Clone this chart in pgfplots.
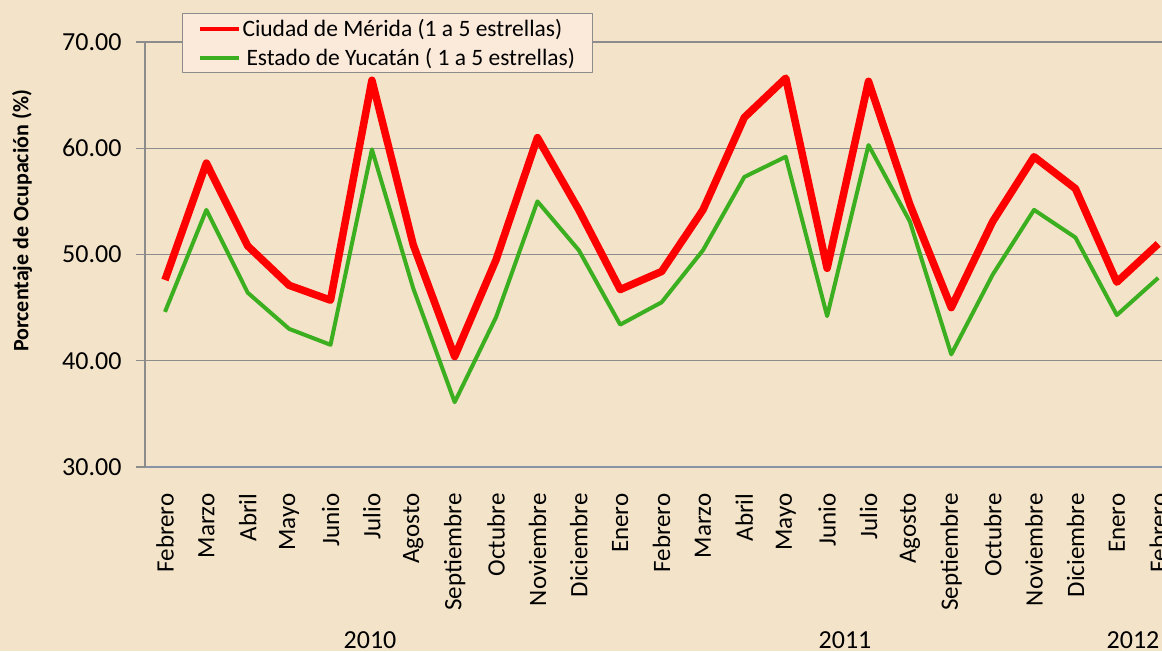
\documentclass[border=0pt]{standalone}
\usepackage{fontspec}
\setmainfont{Carlito}
\usepackage{pgfplots}
\pgfplotsset{compat=1.18}
\definecolor{bgc}{HTML}{F3E3C8}
\definecolor{legbg}{HTML}{FBE9DA}
\definecolor{gridc}{HTML}{8C8C8C}
\definecolor{myred}{HTML}{FF0000}
\definecolor{mygreen}{HTML}{3BAF1F}
\definecolor{botax}{HTML}{8894A6}
\begin{document}
\begin{tikzpicture}[x=1pt,y=1pt]
\useasboundingbox (0,0) rectangle (1162,651);
\clip (0,0) rectangle (1162,651);
\fill[bgc] (0,0) rectangle (1162,651);
\begin{axis}[
  at={(145pt,184pt)}, anchor=south west,
  scale only axis, width=1055pt, height=425pt,
  xmin=-0.483, xmax=25.01, ymin=30, ymax=70,
  axis lines*=left,
  x axis line style={botax, line width=1.5pt},
  y axis line style={gridc, line width=1.5pt},
  ytick={30,40,50,60,70},
  xtick={0,...,24},
  xticklabels={Febrero,Marzo,Abril,Mayo,Junio,Julio,Agosto,Septiembre,Octubre,Noviembre,Diciembre,Enero,Febrero,Marzo,Abril,Mayo,Junio,Julio,Agosto,Septiembre,Octubre,Noviembre,Diciembre,Enero,Febrero},
  x tick label style={rotate=90, anchor=east, font=\fontsize{25}{30}\selectfont},
  xticklabel shift=14pt,
  xtick style={draw=none},
  ymajorgrids, grid style={gridc, line width=1.3pt},
  ytick style={gridc, line width=1.3pt},
  major tick length=9pt, tick align=outside, ytick pos=left,
  y tick label style={font=\fontsize{26}{30}\selectfont, /pgf/number format/.cd, fixed, fixed zerofill, precision=2, assume math mode=true},
  yticklabel shift=11pt,
  legend style={at={(rel axis cs:0,1)}, anchor=north west, xshift=37pt, yshift=29pt,
    draw=gridc, line width=1pt, fill=legbg, font=\fontsize{23.5}{28}\selectfont,
    inner xsep=15pt, inner ysep=4pt, row sep=6pt, cells={anchor=west}},
  legend image code/.code={\draw[#1, line width=4pt] (0pt,0pt) -- (39pt,0pt);},
  line join=round,
]
\addplot[myred, line width=7.5pt] coordinates {
 (0,47.6) (1,58.6) (2,50.8) (3,47.1) (4,45.7) (5,66.4) (6,50.9) (7,40.4) (8,49.5) (9,61.0)
 (10,54.2) (11,46.7) (12,48.4) (13,54.2) (14,62.9) (15,66.6) (16,48.7) (17,66.3) (18,54.7)
 (19,45.0) (20,53.1) (21,59.2) (22,56.2) (23,47.4) (24,51.0)};
\addlegendentry{Ciudad de Mérida (1 a 5 estrellas)}
\addplot[mygreen, line width=4pt] coordinates {
 (0,44.6) (1,54.2) (2,46.4) (3,43.0) (4,41.5) (5,59.9) (6,46.8) (7,36.1) (8,44.1) (9,55.0)
 (10,50.4) (11,43.4) (12,45.5) (13,50.4) (14,57.3) (15,59.2) (16,44.2) (17,60.3) (18,53.1)
 (19,40.6) (20,48.1) (21,54.2) (22,51.6) (23,44.3) (24,47.8)};
\addlegendentry{\hspace{4pt}Estado de Yucatán ( 1 a 5 estrellas)}
\end{axis}
\node[rotate=90, font=\bfseries\fontsize{22}{26}\selectfont] at (22,430) {Porcentaje de Ocupación (\%)};
\node[font=\fontsize{26}{30}\selectfont] at (370,11) {2010};
\node[font=\fontsize{26}{30}\selectfont] at (845,11) {2011};
\node[font=\fontsize{26}{30}\selectfont] at (1133,11) {2012};
\end{tikzpicture}
\end{document}
